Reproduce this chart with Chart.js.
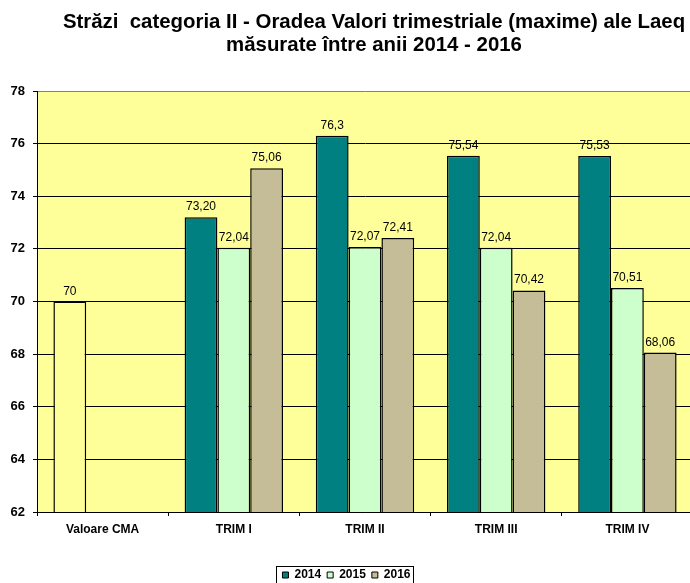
<!DOCTYPE html>
<html>
<head>
<meta charset="utf-8">
<script src="https://cdn.jsdelivr.net/npm/chart.js@4/dist/chart.umd.min.js"></script>
<style>
  html, body { margin: 0; padding: 0; background: #ffffff; overflow: hidden; }
  #wrap { width: 700px; height: 583px; position: relative; }
</style>
</head>
<body>
<div id="wrap"><canvas id="c" width="700" height="583"></canvas></div>
<script>
// ---- data ----
const titleLines = ['Străzi  categoria II - Oradea Valori trimestriale (maxime) ale Laeq', 'măsurate între anii 2014 - 2016'];
const categories = ['Valoare CMA', 'TRIM I', 'TRIM II', 'TRIM III', 'TRIM IV'];
const seriesNames = ['2014', '2015', '2016'];
const values2014 = [70, 73.20, 76.3, 75.54, 75.53];
const values2015 = [null, 72.04, 72.07, 72.04, 70.51];
const values2016 = [null, 75.06, 72.41, 70.42, 68.06];
const text2014 = ['70', '73,20', '76,3', '75,54', '75,53'];
const text2015 = ['', '72,04', '72,07', '72,04', '70,51'];
const text2016 = ['', '75,06', '72,41', '70,42', '68,06'];
const yMin = 62, yMax = 78, yStep = 2;

// ---- styles ----
const FONT = '"Liberation Sans", Arial, sans-serif';
const plotBg = '#FFFF99';
const colTeal = '#008080', colGreen = '#CCFFCC', colTan = '#C4BD97';

const bgPlugin = {
  id: 'bg',
  beforeDraw(chart) {
    const {ctx, chartArea: a} = chart;
    ctx.save();
    ctx.fillStyle = plotBg;
    ctx.fillRect(a.left, a.top, a.right - a.left, a.bottom - a.top);
    ctx.restore();
  },
  afterDraw(chart) {
    const ctx = chart.ctx;
    ctx.save();
    // title
    ctx.fillStyle = '#000';
    ctx.font = 'bold 20.4px ' + FONT;
    ctx.textAlign = 'center';
    ctx.textBaseline = 'alphabetic';
    ctx.fillText(titleLines[0], 374, 28);
    ctx.fillText(titleLines[1], 374, 51);
    // legend frame
    const lg = chart.legend;
    if (lg && lg.legendHitBoxes && lg.legendHitBoxes.length) {
      const hb = lg.legendHitBoxes;
      let l = Infinity, r = -Infinity, t = Infinity;
      hb.forEach(h => { l = Math.min(l, h.left); r = Math.max(r, h.left + h.width); t = Math.min(t, h.top); });
      ctx.strokeStyle = '#000';
      ctx.lineWidth = 1;
      ctx.strokeRect(Math.round(l - 6) + 0.5, Math.round(t - 3) + 0.5, Math.round(r - l + 9), 40);
    }
    ctx.restore();
  },
  afterDatasetsDraw(chart) {
    const ctx = chart.ctx;
    const texts = [text2014, text2015, text2016];
    ctx.save();
    ctx.fillStyle = '#000';
    ctx.font = '12px ' + FONT;
    ctx.textAlign = 'center';
    ctx.textBaseline = 'alphabetic';
    chart.data.datasets.forEach((ds, i) => {
      const meta = chart.getDatasetMeta(i);
      meta.data.forEach((bar, j) => {
        if (ds.data[j] == null) return;
        ctx.fillText(texts[i][j], bar.x, bar.y - 7);
      });
    });
    ctx.restore();
  }
};

const barStyle = { borderColor: '#000', borderWidth: 1.5, categoryPercentage: 0.75, barPercentage: 1.0, skipNull: false };

new Chart(document.getElementById('c'), {
  type: 'bar',
  data: {
    labels: categories,
    datasets: [
      Object.assign({ label: seriesNames[0], data: values2014,
        backgroundColor: values2014.map((v, i) => i === 0 ? plotBg : colTeal) }, barStyle),
      Object.assign({ label: seriesNames[1], data: values2015, backgroundColor: colGreen }, barStyle),
      Object.assign({ label: seriesNames[2], data: values2016, backgroundColor: colTan }, barStyle)
    ]
  },
  options: {
    responsive: false,
    animation: false,
    devicePixelRatio: 1,
    layout: { padding: { top: 91, left: 0, right: 7, bottom: -8 } },
    plugins: {
      title: { display: false },
      tooltip: { enabled: false },
      legend: {
        display: true,
        position: 'bottom',
        labels: {
          color: '#000',
          font: { family: FONT, size: 12, weight: 'bold' },
          boxWidth: 6,
          boxHeight: 6,
          padding: 6,
          generateLabels(chart) {
            return chart.data.datasets.map((ds, i) => ({
              text: ds.label,
              fillStyle: [colTeal, colGreen, colTan][i],
              strokeStyle: '#000',
              lineWidth: 1,
              datasetIndex: i,
              fontColor: '#000'
            }));
          }
        }
      }
    },
    scales: {
      x: {
        offset: true,
        grid: { display: true, drawOnChartArea: false, drawTicks: true, tickLength: 4, color: '#000', offset: true },
        border: { display: true, color: '#000', width: 1 },
        ticks: { color: '#000', font: { family: FONT, size: 12, weight: 'bold' }, padding: 6, maxRotation: 0 },
        afterFit(scale) { scale.height = 51; }
      },
      y: {
        min: yMin, max: yMax,
        grid: {
          color: (c) => (c.tick && c.tick.value === yMax) ? '#808080' : '#000',
          tickColor: '#000',
          tickLength: 4,
          lineWidth: 1
        },
        border: { display: true, color: '#000', width: 1 },
        ticks: { stepSize: yStep, color: '#000', font: { family: FONT, size: 13, weight: 'bold' }, padding: 8 },
        afterFit(scale) { scale.width = 37; }
      }
    }
  },
  plugins: [bgPlugin]
});
</script>
</body>
</html>
